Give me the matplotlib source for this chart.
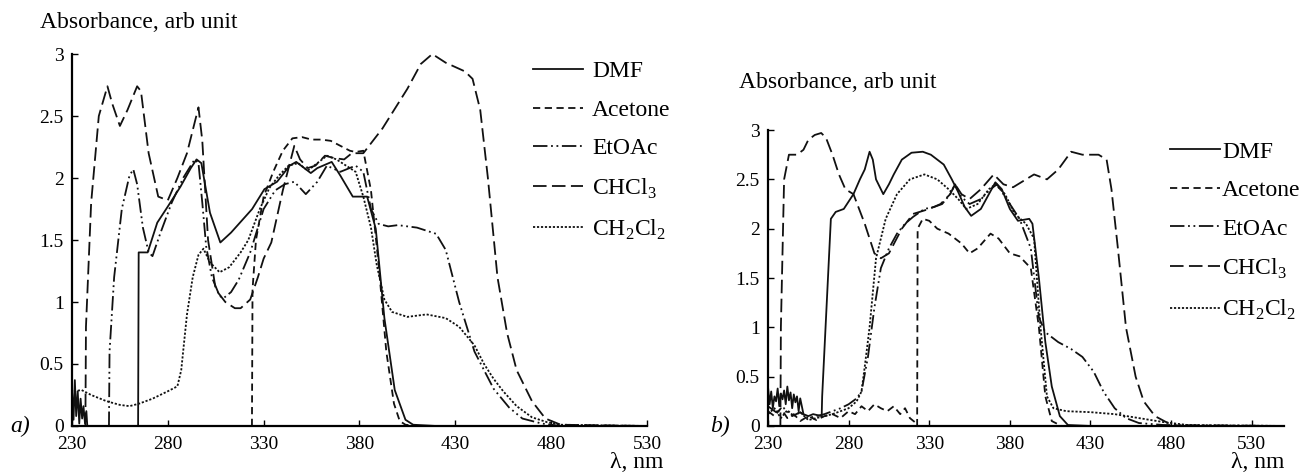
import numpy as np
import matplotlib.pyplot as plt

plt.rcParams["font.family"] = "Liberation Serif"
plt.rcParams["mathtext.fontset"] = "custom"
plt.rcParams["mathtext.rm"] = "Liberation Serif"

# ---- panel a ----
a_dmf_x = [230, 230.8, 231.5, 232.2, 233, 233.8, 234.5, 235.3, 236, 236.8, 237.5, 238, 250, 264.5, 264.8,
           269.5, 274.5, 280, 286.6, 292, 295, 297.5, 302, 307.4, 313, 324, 330.4, 337, 343.6, 347,
           354.6, 358, 365.5, 370, 376.5, 384, 388.5, 393, 398.4, 404, 408, 420, 530]
a_dmf_y = [0.30, 0.05, 0.37, 0.08, 0.28, 0.02, 0.22, 0.06, 0.16, 0.02, 0.12, 0.0, 0.0, 0.0, 1.40,
           1.40, 1.64, 1.77, 1.93, 2.08, 2.15, 2.12, 1.72, 1.48, 1.56, 1.75, 1.91, 1.97, 2.10, 2.13,
           2.04, 2.08, 2.13, 2.02, 1.85, 1.85, 1.59, 0.87, 0.29, 0.05, 0.01, 0.0, 0.0]

a_ace_x = [323.9, 324.2, 326, 330, 335, 340, 345, 350, 355, 360, 365, 370, 375, 378, 382, 386,
           390, 394, 398, 401, 404, 410, 530]
a_ace_y = [0.0, 1.10, 1.50, 1.85, 2.05, 2.22, 2.32, 2.33, 2.31, 2.31, 2.30, 2.26, 2.22, 2.21, 2.22, 1.90,
           1.30, 0.60, 0.18, 0.04, 0.01, 0.0, 0.0]

a_eto_x = [249.3, 249.6, 252, 256, 260, 262, 264, 267, 270, 272, 276, 282, 288, 294, 296, 298, 300,
           303, 307, 309, 313, 317, 323, 330, 336, 341, 346, 352, 358, 363, 370, 378, 382, 386,
           390, 395, 400, 410, 420, 425, 432, 440, 450, 458, 465, 475, 485, 530]
a_eto_y = [0.0, 0.60, 1.20, 1.75, 2.02, 2.07, 1.95, 1.60, 1.40, 1.37, 1.55, 1.80, 2.00, 2.15, 2.12, 1.80, 1.45,
           1.20, 1.05, 1.03, 1.08, 1.18, 1.40, 1.75, 1.90, 1.95, 1.97, 1.87, 1.97, 2.10, 2.05, 2.10, 2.05, 1.75,
           1.63, 1.61, 1.62, 1.60, 1.55, 1.42, 1.00, 0.60, 0.30, 0.15, 0.06, 0.02, 0.0, 0.0]

a_chcl3_x = [237, 237.3, 240, 244, 248.5, 251, 255, 259, 264, 266, 270, 275, 280, 285, 290, 296,
             298, 301, 305, 310, 315, 318, 323, 327, 330, 334, 340, 346, 349, 353, 357, 362, 367,
             372, 376, 382, 392, 405, 412, 418, 425, 435, 439, 443, 447, 452, 457, 462, 470,
             477, 485, 530]
a_chcl3_y = [0.0, 0.80, 1.80, 2.50, 2.74, 2.60, 2.42, 2.55, 2.74, 2.70, 2.20, 1.85, 1.82, 2.00, 2.20, 2.57,
             2.30, 1.50, 1.10, 1.00, 0.95, 0.95, 1.02, 1.20, 1.35, 1.48, 1.90, 2.26, 2.15, 2.08, 2.10, 2.18,
             2.16, 2.15, 2.20, 2.20, 2.40, 2.72, 2.92, 3.00, 2.93, 2.86, 2.80, 2.55, 2.00, 1.20, 0.75,
             0.45, 0.20, 0.06, 0.01, 0.0]

a_ch2_x = [231, 235, 240, 248, 255, 260, 265, 272, 280, 285, 287, 290, 293, 296, 298.6, 302, 307,
           312, 318, 322, 328, 333, 338, 343, 348, 353, 358, 363, 368, 373, 378, 382, 386, 389,
           393, 397, 405, 415, 425, 432, 440, 445, 450, 455, 462, 470, 478, 485, 530]
a_ch2_y = [0.28, 0.29, 0.25, 0.20, 0.17, 0.16, 0.18, 0.22, 0.28, 0.32, 0.45, 0.90, 1.20, 1.38, 1.43, 1.32, 1.24,
           1.28, 1.40, 1.50, 1.75, 1.92, 2.02, 2.10, 2.12, 2.06, 2.12, 2.18, 2.15, 2.10, 2.05, 1.85, 1.60,
           1.30, 1.02, 0.92, 0.88, 0.90, 0.87, 0.80, 0.65, 0.50, 0.38, 0.28, 0.16, 0.07, 0.03, 0.01, 0.0]

# ---- panel b ----
b_dmf_x = [230, 231, 232, 233, 234, 235, 236, 237, 238, 239, 240, 241, 242, 243, 244, 245, 246, 247,
           248, 249, 250, 252, 255, 258, 263.3, 263.6, 269, 272, 277, 283, 287, 290, 293, 295, 297,
           301.5, 305, 308, 313, 319, 326, 331, 339, 344, 348, 352, 356, 362, 367, 371, 375, 380,
           385, 392, 394, 398, 402, 406, 411, 416, 430, 550]
b_dmf_y = [0.40, 0.22, 0.35, 0.18, 0.30, 0.25, 0.38, 0.20, 0.33, 0.27, 0.36, 0.22, 0.40, 0.26, 0.34, 0.18, 0.32, 0.24,
           0.30, 0.15, 0.28, 0.12, 0.10, 0.12, 0.10, 0.30, 2.10, 2.17, 2.20, 2.35, 2.50, 2.60, 2.78, 2.70, 2.50,
           2.35, 2.45, 2.55, 2.70, 2.77, 2.78, 2.75, 2.65, 2.50, 2.37, 2.22, 2.13, 2.20, 2.35, 2.47, 2.40, 2.20,
           2.08, 2.10, 2.05, 1.50, 0.85, 0.40, 0.10, 0.01, 0.0, 0.0]

b_ace_x = [230, 234, 238, 242, 246, 250, 255, 260, 265, 270, 275, 280, 284, 288, 292, 296, 300, 304,
           308, 312, 315, 318, 321, 322.5, 322.8, 326, 330, 335, 342, 350, 355, 360, 368, 373, 380,
           386, 393, 398, 402, 406, 412, 550]
b_ace_y = [0.15, 0.10, 0.18, 0.08, 0.12, 0.05, 0.10, 0.06, 0.10, 0.12, 0.08, 0.15, 0.12, 0.20, 0.15, 0.22, 0.18, 0.15,
           0.20, 0.12, 0.18, 0.08, 0.04, 0.0, 2.00, 2.10, 2.08, 2.00, 1.95, 1.85, 1.75, 1.80, 1.95, 1.90, 1.75,
           1.72, 1.60, 1.00, 0.30, 0.05, 0.0, 0.0]

b_eto_x = [230, 235, 240, 245, 250, 255, 260, 265, 270, 275, 280, 285, 288, 292, 296, 300, 305, 310,
           315, 320, 327, 333, 338, 343, 346, 350, 355, 362, 368, 372, 378, 386, 393, 398, 402, 410,
           418, 425, 432, 438, 445, 452, 460, 475, 550]
b_eto_y = [0.20, 0.14, 0.18, 0.10, 0.14, 0.08, 0.10, 0.12, 0.15, 0.18, 0.22, 0.28, 0.35, 0.70, 1.20, 1.60, 1.80, 1.95,
           2.05, 2.12, 2.20, 2.22, 2.25, 2.35, 2.45, 2.32, 2.25, 2.30, 2.40, 2.45, 2.30, 2.10, 1.80, 1.10, 0.95, 0.85,
           0.78, 0.70, 0.55, 0.35, 0.18, 0.08, 0.03, 0.01, 0.0]

b_chcl3_x = [237.7, 238, 240, 243, 248, 252, 255, 259, 263, 266, 270, 274, 278, 283, 290, 296, 300,
             305, 313, 320, 330, 337, 343, 346, 350, 355, 362, 370, 376, 382, 390, 395, 403, 410,
             418, 425, 435, 440, 443, 447, 452, 458, 463, 470, 478, 485, 550]
b_chcl3_y = [0.0, 1.00, 2.50, 2.75, 2.75, 2.80, 2.90, 2.95, 2.97, 2.92, 2.75, 2.55, 2.40, 2.35, 2.05, 1.75, 1.70,
             1.75, 2.00, 2.15, 2.20, 2.25, 2.35, 2.45, 2.35, 2.30, 2.40, 2.55, 2.45, 2.42, 2.50, 2.55, 2.50, 2.60,
             2.78, 2.75, 2.75, 2.70, 2.40, 1.80, 1.00, 0.50, 0.25, 0.10, 0.03, 0.0, 0.0]

b_ch2_x = [230, 234, 238, 242, 246, 250, 255, 260, 265, 270, 275, 280, 285, 288, 290, 293, 297, 303,
           310, 318, 327, 335, 342, 348, 353, 360, 367, 371, 377, 383, 390, 395, 399, 403, 407, 415,
           430, 445, 460, 475, 490, 550]
b_ch2_y = [0.12, 0.18, 0.08, 0.16, 0.10, 0.14, 0.06, 0.08, 0.10, 0.12, 0.15, 0.18, 0.25, 0.35, 0.60, 1.00, 1.70, 2.10,
           2.35, 2.50, 2.55, 2.50, 2.40, 2.30, 2.20, 2.25, 2.40, 2.45, 2.35, 2.15, 2.05, 1.90, 1.00, 0.30, 0.18, 0.15,
           0.14, 0.12, 0.08, 0.04, 0.01, 0.0]

labels = ["DMF", "Acetone", "EtOAc", r"CHCl$_\mathregular{3}$", r"CH$_\mathregular{2}$Cl$_\mathregular{2}$"]
styles = ["-", (0, (4, 2.5)), (0, (8, 2, 1, 2, 1, 2)), (0, (7.5, 3)), (0, (1.2, 1))]

panel_a = [(a_dmf_x, a_dmf_y), (a_ace_x, a_ace_y), (a_eto_x, a_eto_y),
           (a_chcl3_x, a_chcl3_y), (a_ch2_x, a_ch2_y)]
panel_b = [(b_dmf_x, b_dmf_y), (b_ace_x, b_ace_y), (b_eto_x, b_eto_y),
           (b_chcl3_x, b_chcl3_y), (b_ch2_x, b_ch2_y)]

fig = plt.figure(figsize=(13.11, 4.72), dpi=100)
ax1 = fig.add_axes([0.0549, 0.0975, 0.4386, 0.788])
ax2 = fig.add_axes([0.5858, 0.0975, 0.3936, 0.627])

for ax, data, xmax in [(ax1, panel_a, 530), (ax2, panel_b, 550)]:
    for (x, y), lab, ls in zip(data, labels, styles):
        ax.plot(x, y, color="#111111", lw=1.3, linestyle=ls, label=lab)
    ax.set_xlim(230, xmax)
    ax.set_ylim(0, 3)
    ax.set_xticks(np.arange(230, 531, 50))
    ax.set_yticks([0, 0.5, 1, 1.5, 2, 2.5, 3])
    ax.set_yticklabels(["0", "0.5", "1", "1.5", "2", "2.5", "3"])
    for s in ["top", "right"]:
        ax.spines[s].set_visible(False)
    for s in ["left", "bottom"]:
        ax.spines[s].set_linewidth(1.6)
    ax.tick_params(direction="in", length=4, width=1, labelsize=14)
    ax.tick_params(axis="x", pad=7)
    ax.tick_params(axis="y", pad=6)

# panel tags, axis titles
fig.text(0.0076, 0.0975, "a)", fontsize=17, style="italic", ha="left", va="center")
fig.text(0.5416, 0.0975, "b)", fontsize=17, style="italic", ha="left", va="center")
fig.text(0.5057, 0.021, "λ, nm", fontsize=17, ha="right", va="center")
fig.text(0.980, 0.021, "λ, nm", fontsize=17, ha="right", va="center")
fig.text(0.0305, 0.953, "Absorbance, arb unit", fontsize=17, ha="left", va="center")
fig.text(0.5637, 0.826, "Absorbance, arb unit", fontsize=17, ha="left", va="center")

ax1.legend(loc="upper left", bbox_to_anchor=(0.4066, 0.871), bbox_transform=fig.transFigure,
           frameon=False, fontsize=17, handlelength=2.1, handletextpad=0.4, labelspacing=0.72,
           borderpad=0, borderaxespad=0)
ax2.legend(loc="upper left", bbox_to_anchor=(0.8925, 0.701), bbox_transform=fig.transFigure,
           frameon=False, fontsize=17, handlelength=2.1, handletextpad=0.1, labelspacing=0.72,
           borderpad=0, borderaxespad=0)

fig.savefig("out.png", dpi=100)
